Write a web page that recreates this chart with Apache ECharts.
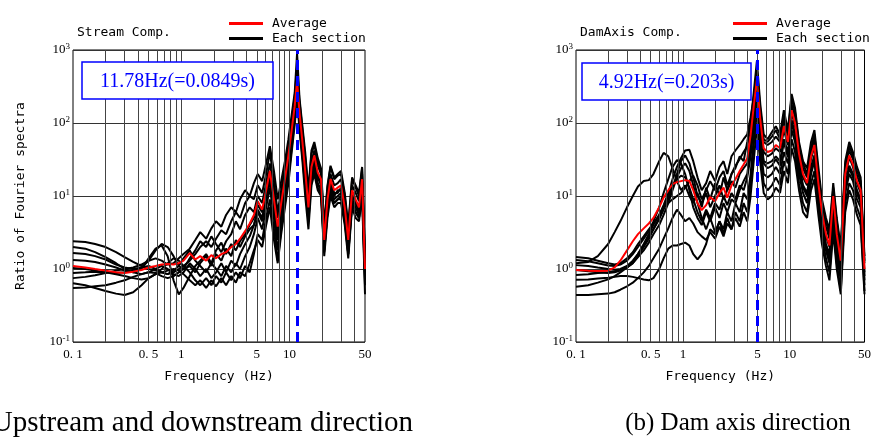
<!DOCTYPE html>
<html>
<head>
<meta charset="utf-8">
<script src="https://cdn.jsdelivr.net/npm/echarts@6/dist/echarts.min.js"></script>
<style>
html, body { margin: 0; padding: 0; background: #fff; }
#chart { width: 874px; height: 437px; }
</style>
</head>
<body>
<div id="chart"></div>
<script>
// frequency grid (Hz) for the stream-direction panel
const FREQ_A = [0.1, 0.13, 0.16, 0.2, 0.25, 0.3, 0.36, 0.43, 0.5, 0.58, 0.66, 0.75, 0.85, 0.95, 1.05, 1.2, 1.35, 1.5, 1.7, 1.9,
	2.1, 2.35, 2.6, 2.9, 3.2, 3.5, 3.9, 4.3, 4.7, 5.1, 5.6, 6.1, 6.6, 7.2, 7.8, 8.4, 9.1, 9.8, 10.5, 11.2,
	11.78, 12.4, 13.2, 14, 15, 16, 17, 18.3, 19.6, 21, 22.5, 24, 26, 28, 30, 32.5, 35, 38, 41, 44, 47, 50];

const AVG_A = [1.1, 1.05, 1.0, 0.95, 0.9, 0.88, 0.92, 0.97, 1.05, 1.1, 1.15, 1.17, 1.15, 1.2, 1.3, 1.65, 1.35, 1.5, 1.3, 1.55,
	1.4, 1.6, 1.7, 2.0, 2.2, 2.6, 3.3, 4.2, 5.5, 8.5, 6.5, 12, 22, 9, 3.8, 8, 17, 36, 80, 170,
	380, 140, 55, 22, 7, 25, 36, 21, 17, 2.5, 9, 17, 12, 13, 14, 7, 2.5, 12, 9, 7, 17, 1.0];

const SECTIONS_A = [
	[2.4, 2.35, 2.2, 2.0, 1.7, 1.45, 1.25, 1.1, 1.0, 0.95, 0.9, 0.85, 0.9, 1.0, 1.1, 1.3, 1.6, 2.0, 2.4, 2.0,
		2.6, 3.4, 3.0, 4.5, 6, 5, 8, 10, 9, 14, 11, 20, 40, 16, 6, 12, 26, 50, 110, 230,
		600, 200, 80, 34, 11, 38, 50, 30, 22, 3.5, 13, 25, 17, 19, 20, 10, 3.5, 17, 13, 10, 24, 1.4],
	[2.0, 1.9, 1.7, 1.45, 1.2, 1.0, 0.9, 0.85, 0.9, 1.0, 1.1, 1.0, 0.85, 0.8, 0.9, 1.2, 1.0, 0.8, 1.0, 0.75,
		0.9, 1.2, 0.9, 1.3, 1.1, 1.6, 2.2, 2.8, 4, 6, 4.5, 9, 16, 6, 2.5, 6, 12, 28, 60, 130,
		260, 110, 40, 16, 5, 20, 28, 15, 12, 1.8, 6, 12, 8, 9, 10, 5, 1.6, 8, 6, 5, 12, 0.7],
	[1.66, 1.6, 1.5, 1.35, 1.15, 1.05, 1.0, 1.05, 1.3, 1.8, 2.2, 2.0, 1.5, 1.1, 1.0, 1.4, 1.8, 2.4, 2.0, 2.8,
		2.2, 1.7, 2.4, 3.0, 4.5, 3.5, 5.5, 7, 6, 10, 8, 15, 28, 12, 5, 10, 20, 45, 95, 200,
		450, 170, 65, 26, 8, 30, 42, 26, 20, 3, 11, 20, 14, 15, 17, 8, 3, 14, 11, 8.5, 20, 1.2],
	[1.33, 1.3, 1.25, 1.15, 1.05, 0.95, 0.9, 1.0, 1.4, 1.9, 2.1, 1.5, 0.7, 0.45, 0.55, 0.8, 1.1, 1.3, 1.6, 1.2,
		1.8, 2.3, 1.6, 2.2, 1.8, 2.4, 3.0, 4, 5, 7.5, 6, 11, 20, 8, 3.2, 7, 15, 32, 70, 150,
		330, 120, 48, 18, 6, 24, 32, 19, 15, 2.2, 8, 15, 10, 12, 12, 6, 2.2, 10, 8, 6, 15, 0.9],
	[1.03, 1.0, 0.95, 0.9, 0.88, 0.9, 0.95, 1.05, 1.1, 1.0, 0.9, 0.85, 0.95, 1.1, 1.4, 1.8, 1.3, 1.1, 0.9, 1.2,
		1.0, 0.8, 1.1, 0.9, 1.2, 1.0, 1.5, 2.0, 3.0, 5, 3.5, 7, 13, 5, 1.8, 4.5, 10, 22, 55, 120,
		280, 100, 38, 15, 5, 18, 25, 14, 13, 2.0, 7, 13, 9, 10, 11, 5.5, 1.9, 9, 7, 5.5, 13, 0.8],
	[0.88, 0.9, 0.92, 0.9, 0.85, 0.8, 0.75, 0.72, 0.75, 0.85, 1.0, 1.2, 1.4, 1.3, 1.1, 0.9, 0.7, 0.6, 0.75, 0.6,
		0.8, 0.65, 0.9, 0.7, 0.9, 0.75, 1.1, 0.9, 1.6, 3.0, 2.5, 5, 9, 3.5, 1.3, 3.5, 8, 18, 45, 110,
		250, 90, 35, 13, 4.5, 16, 22, 13, 11, 1.7, 6, 11, 8, 9, 9, 4.5, 1.6, 8, 6, 5, 11, 0.6],
	[0.75, 0.78, 0.82, 0.88, 0.95, 1.0, 1.05, 1.15, 1.3, 1.4, 1.3, 1.15, 1.2, 1.4, 1.6, 1.9, 2.5, 3.2, 2.6, 3.6,
		4.5, 3.8, 5.5, 7, 6, 9, 12, 10, 15, 20, 16, 28, 48, 22, 9, 16, 30, 60, 130, 260,
		900, 220, 90, 40, 12, 42, 55, 33, 24, 4, 14, 26, 18, 20, 22, 11, 4, 18, 14, 11, 25, 1.5],
	[0.64, 0.6, 0.55, 0.5, 0.46, 0.44, 0.48, 0.6, 0.75, 0.85, 0.9, 0.95, 1.0, 0.95, 0.85, 0.7, 0.6, 0.7, 0.55, 0.7,
		0.58, 0.75, 0.6, 0.8, 0.65, 0.9, 0.8, 1.2, 1.8, 2.5, 2.0, 4, 7, 2.5, 1.2, 3, 7, 15, 40, 95,
		220, 80, 30, 10, 3.5, 14, 20, 12, 10, 1.5, 5, 10, 7, 8, 8, 4, 1.4, 7, 5, 4.5, 10, 0.45],
	[0.55, 0.56, 0.58, 0.6, 0.65, 0.7, 0.78, 0.85, 0.9, 0.88, 0.8, 0.75, 0.8, 0.9, 1.0, 1.1, 0.9, 1.2, 1.5, 1.1,
		1.6, 1.3, 1.9, 1.5, 2.5, 2.0, 2.8, 3.5, 4, 6.5, 5, 10, 18, 7, 2.8, 6.5, 14, 30, 65, 150,
		320, 130, 50, 20, 6, 22, 30, 18, 14, 2.2, 8, 15, 11, 11, 13, 6, 2.2, 11, 8, 6.5, 16, 0.9]
];

// frequency grid (Hz) for the dam-axis panel
const FREQ_B = [0.1, 0.13, 0.16, 0.2, 0.23, 0.26, 0.3, 0.34, 0.38, 0.43, 0.48, 0.53, 0.6, 0.66, 0.73, 0.8, 0.88, 0.96, 1.05, 1.15,
	1.25, 1.37, 1.5, 1.65, 1.8, 2.0, 2.2, 2.4, 2.6, 2.85, 3.1, 3.4, 3.7, 4.0, 4.3, 4.6, 4.92, 5.3, 5.7, 6.2,
	6.8, 7.4, 8.1, 8.8, 9.6, 10.4, 11.2, 12.2, 13.3, 14.5, 15.8, 17, 18.5, 20, 21.8, 23.5, 25.5, 27.5, 30, 33,
	36, 39, 42.5, 46, 50];

const AVG_B = [0.97, 0.95, 0.94, 0.95, 1.05, 1.3, 1.8, 2.4, 3.0, 3.6, 4.2, 5.0, 7, 9.5, 12, 14.5, 15.5, 16, 16.5, 16,
	12, 8, 6.4, 7.5, 9.7, 8.5, 11, 13, 9.5, 14, 17, 22, 27, 33, 68, 170, 390, 110, 45, 40,
	42, 50, 45, 90, 55, 150, 100, 38, 20, 15, 35, 50, 15, 6, 3, 2.1, 10, 3, 1.3, 20,
	36, 27, 16, 12, 1.0];

const SECTIONS_B = [
	[1.2, 1.25, 1.5, 2.2, 3.2, 4.5, 7, 10, 13.5, 16, 16.5, 20, 30, 39, 35, 24, 16, 12, 14, 10,
		8, 11, 7, 13, 9, 15, 10, 18, 12, 20, 24, 35, 30, 55, 100, 260, 700, 180, 70, 60,
		75, 90, 70, 150, 80, 250, 160, 55, 30, 24, 55, 80, 25, 9, 5, 3.5, 15, 5, 2, 30,
		55, 40, 25, 18, 1.5],
	[1.46, 1.4, 1.3, 1.2, 1.15, 1.2, 1.4, 1.7, 2.2, 2.8, 3.5, 4.2, 5.5, 7.5, 11, 17, 25, 33, 42, 43,
		30, 18, 12, 15, 22, 16, 25, 30, 20, 35, 42, 50, 60, 70, 120, 220, 550, 150, 60, 55,
		65, 80, 60, 130, 75, 220, 140, 50, 28, 20, 45, 70, 20, 8, 4.5, 3, 13, 4.5, 1.8, 26,
		48, 36, 22, 16, 1.3],
	[1.33, 1.28, 1.2, 1.12, 1.1, 1.15, 1.3, 1.6, 2.0, 2.6, 3.3, 4.5, 7, 11, 17, 25, 31, 28, 20, 12,
		7, 5, 4, 6, 4.5, 7, 5, 8, 6, 9, 8, 12, 16, 20, 45, 130, 300, 80, 30, 28,
		30, 35, 30, 60, 40, 110, 70, 28, 14, 11, 25, 36, 11, 4.5, 2.2, 1.6, 7, 2.2, 1.0, 14,
		26, 20, 12, 9, 0.8],
	[1.13, 1.1, 1.05, 1.0, 0.98, 1.0, 1.1, 1.3, 1.6, 2.1, 2.8, 3.5, 4.8, 6.5, 9, 13, 20, 30, 36, 28,
		18, 10, 8, 11, 7, 10, 14, 9, 12, 16, 13, 20, 24, 28, 60, 160, 380, 100, 40, 35,
		38, 45, 40, 80, 50, 140, 90, 35, 18, 14, 32, 48, 14, 5.5, 2.8, 2, 9, 2.8, 1.2, 18,
		34, 25, 15, 11, 0.9],
	[0.83, 0.85, 0.88, 0.9, 0.93, 0.98, 1.05, 1.2, 1.45, 1.8, 2.3, 3.0, 4.0, 5.5, 8, 12, 18, 24, 28, 22,
		14, 8, 5, 3.5, 5, 3.2, 4.5, 3, 5, 3.5, 6, 4.5, 8, 6, 15, 50, 150, 40, 15, 12,
		14, 18, 14, 30, 20, 60, 40, 15, 8, 6, 15, 22, 7, 2.8, 1.4, 0.9, 4, 1.2, 0.5, 8,
		15, 12, 7, 5, 0.5],
	[0.71, 0.72, 0.74, 0.76, 0.78, 0.8, 0.8, 0.78, 0.75, 0.72, 0.7, 0.75, 1.0, 1.4, 1.9, 2.1, 2.1, 2.2, 2.3, 2.1,
		1.6, 1.35, 1.6, 2.2, 3.5, 3.0, 4.5, 3.5, 6, 4.5, 8, 6, 11, 9, 20, 60, 180, 50, 20, 18,
		20, 25, 20, 40, 28, 80, 55, 20, 11, 8, 20, 30, 9, 3.5, 1.8, 1.2, 5.5, 1.6, 0.7, 11,
		20, 16, 9, 7, 0.6],
	[0.57, 0.6, 0.65, 0.72, 0.8, 0.9, 1.05, 1.2, 1.5, 2.0, 2.6, 3.5, 5, 7, 10, 14, 17, 19, 18, 13,
		9, 6, 4.5, 6.5, 5, 8, 6.5, 10, 7.5, 11, 9, 14, 12, 18, 35, 90, 250, 70, 28, 24,
		26, 32, 26, 55, 34, 100, 65, 25, 13, 10, 22, 33, 10, 4, 2, 1.4, 6.5, 2, 0.85, 12,
		24, 18, 11, 8, 0.7],
	[0.97, 0.93, 0.9, 0.88, 0.9, 0.95, 1.05, 1.25, 1.6, 2.2, 3.0, 4.0, 5.5, 7, 8, 9, 10, 11, 13, 16,
		19, 14, 9, 12, 16, 12, 18, 22, 14, 20, 26, 32, 40, 48, 90, 200, 450, 130, 55, 50,
		55, 65, 55, 110, 65, 180, 120, 45, 24, 18, 40, 60, 18, 7, 3.8, 2.6, 12, 3.8, 1.6, 24,
		42, 32, 19, 14, 1.2],
	[0.44, 0.44, 0.45, 0.46, 0.48, 0.52, 0.58, 0.65, 0.75, 0.9, 1.1, 1.4, 1.9, 2.6, 3.6, 5, 6.5, 5.5, 4.5, 5,
		4.2, 3.2, 2.8, 2.5, 3.2, 2.6, 3.8, 2.8, 4.2, 3.5, 5, 3.8, 6, 4.5, 10, 30, 90, 28, 11, 9,
		10, 13, 11, 22, 15, 45, 30, 12, 6, 5, 12, 17, 5.5, 2.2, 1.1, 0.7, 3.2, 1.0, 0.45, 6,
		12, 9, 5.5, 4, 0.45]
];

const PEAK_A = 11.78;
const PEAK_B = 4.92;
const PEAK_LABEL_A = '11.78Hz(=0.0849s)';
const PEAK_LABEL_B = '4.92Hz(=0.203s)';
const PANEL_TITLES = ['Stream Comp.', 'DamAxis Comp.'];
const CAPTIONS = ['(a) Upstream and downstream direction', '(b) Dam axis direction'];
const LEGEND_NAMES = ['Average', 'Each section'];
const X_NAME = 'Frequency (Hz)';
const Y_NAME = 'Ratio of Fourier spectra';

const X_TICKS = [0.1, 0.5, 1, 5, 10, 50];
const X_TICK_LABELS = ['0. 1', '0. 5', '1', '5', '10', '50'];
const GRID_FREQS = [0.2, 0.3, 0.4, 0.5, 0.6, 0.7, 0.8, 0.9, 1, 2, 3, 4, 5, 6, 7, 8, 9, 10, 20, 30, 40];

const MONO = 'DejaVu Sans Mono';
const SERIF = 'Liberation Serif';

const chart = echarts.init( document.getElementById( 'chart' ) );

function pairs( freqs, values ) {
	return freqs.map( ( f, i ) => [ f, values[ i ] ] );
}

function xAxisFor( gridIndex ) {
	return {
		type: 'log',
		logBase: 10,
		gridIndex: gridIndex,
		min: 0.1,
		max: 50,
		name: X_NAME,
		nameLocation: 'middle',
		nameGap: 28,
		nameTextStyle: { fontFamily: MONO, fontSize: 13, color: '#000' },
		axisLine: { show: false },
		axisTick: { show: false },
		splitLine: { show: false },
		axisLabel: {
			customValues: X_TICKS,
			showMinLabel: true,
			showMaxLabel: true,
			margin: 6,
			fontFamily: SERIF,
			fontSize: 13,
			color: '#000',
			formatter: ( v ) => {
				const i = X_TICKS.findIndex( ( t ) => Math.abs( Math.log10( t ) - Math.log10( v ) ) < 1e-6 );
				return i >= 0 ? X_TICK_LABELS[ i ] : '';
			}
		}
	};
}

function yAxisFor( gridIndex ) {
	return {
		type: 'log',
		logBase: 10,
		gridIndex: gridIndex,
		min: 0.1,
		max: 1000,
		name: gridIndex === 0 ? Y_NAME : '',
		nameLocation: 'middle',
		nameGap: 46,
		nameTextStyle: { fontFamily: MONO, fontSize: 13, color: '#000' },
		axisLine: { show: false },
		axisTick: { show: false },
		splitLine: { show: true, lineStyle: { color: '#333', width: 1 } },
		axisLabel: {
			margin: 3,
			formatter: ( v ) => '{b|10}{s|' + Math.round( Math.log10( v ) ) + '}',
			rich: {
				b: { fontFamily: SERIF, fontSize: 13, color: '#000', lineHeight: 16 },
				s: { fontFamily: SERIF, fontSize: 9, color: '#000', lineHeight: 9, verticalAlign: 'top' }
			}
		}
	};
}

function panelSeries( idx, freqs, sections, avg, peak ) {
	const list = [];
	// vertical log grid lines
	list.push( {
		type: 'line',
		name: 'grid',
		xAxisIndex: idx,
		yAxisIndex: idx,
		data: [ [ 0.1, 1 ] ],
		showSymbol: false,
		lineStyle: { opacity: 0 },
		silent: true,
		z: 1,
		markLine: {
			silent: true,
			symbol: [ 'none', 'none' ],
			label: { show: false },
			lineStyle: { color: '#444', width: 1, type: 'solid' },
			data: GRID_FREQS.map( ( f ) => ( { xAxis: f } ) )
		}
	} );
	sections.forEach( ( vals ) => {
		list.push( {
			type: 'line',
			name: LEGEND_NAMES[ 1 ],
			xAxisIndex: idx,
			yAxisIndex: idx,
			data: pairs( freqs, vals ),
			showSymbol: false,
			color: '#000',
			lineStyle: { color: '#000', width: 2 },
			z: 2
		} );
	} );
	list.push( {
		type: 'line',
		name: LEGEND_NAMES[ 0 ],
		xAxisIndex: idx,
		yAxisIndex: idx,
		data: pairs( freqs, avg ),
		showSymbol: false,
		color: '#ff0000',
		lineStyle: { color: '#ff0000', width: 2 },
		z: 3
	} );
	list.push( {
		type: 'line',
		name: 'peak',
		xAxisIndex: idx,
		yAxisIndex: idx,
		data: [ [ peak, 1 ] ],
		showSymbol: false,
		lineStyle: { opacity: 0 },
		silent: true,
		z: 5,
		markLine: {
			silent: true,
			symbol: [ 'none', 'none' ],
			label: { show: false },
			lineStyle: { color: '#0000ff', width: 3, type: [ 10, 6 ] },
			data: [ { xAxis: peak } ]
		}
	} );
	return list;
}

function legendAt( left ) {
	return {
		left: left,
		top: 12,
		orient: 'vertical',
		icon: 'rect',
		itemWidth: 34,
		itemHeight: 3,
		itemGap: 2,
		selectedMode: false,
		data: LEGEND_NAMES,
		textStyle: { fontFamily: MONO, fontSize: 13, color: '#000', padding: [ 0, 0, 0, 4 ] }
	};
}

function peakBox( x, y, w, h, text ) {
	return [
		{ type: 'rect', shape: { x: x, y: y, width: w, height: h }, style: { fill: '#fff', stroke: '#0000ff', lineWidth: 1.5 }, z: 100 },
		{ type: 'text', x: x + w / 2, y: y + h / 2 + 1, style: { text: text, font: '20px "' + SERIF + '"', fill: '#0000ff', align: 'center', verticalAlign: 'middle' }, z: 101 }
	];
}

const option = {
	animation: false,
	backgroundColor: '#fff',
	grid: [
		{ left: 73, top: 50, width: 292, height: 292, show: true, borderColor: '#000', borderWidth: 1, backgroundColor: 'transparent' },
		{ left: 576, top: 50, width: 293, height: 292, show: true, borderColor: '#000', borderWidth: 1, backgroundColor: 'transparent' }
	],
	xAxis: [ xAxisFor( 0 ), xAxisFor( 1 ) ],
	yAxis: [ yAxisFor( 0 ), yAxisFor( 1 ) ],
	legend: [ legendAt( 224 ), legendAt( 728 ) ],
	series: [
		...panelSeries( 0, FREQ_A, SECTIONS_A, AVG_A, PEAK_A ),
		...panelSeries( 1, FREQ_B, SECTIONS_B, AVG_B, PEAK_B )
	],
	graphic: [
		{ type: 'text', x: 77, y: 33, style: { text: PANEL_TITLES[ 0 ], font: '13px "' + MONO + '"', fill: '#000', verticalAlign: 'middle' } },
		{ type: 'text', x: 580, y: 33, style: { text: PANEL_TITLES[ 1 ], font: '13px "' + MONO + '"', fill: '#000', verticalAlign: 'middle' } },
		...peakBox( 82, 62, 191, 37, PEAK_LABEL_A ),
		...peakBox( 582, 63, 169, 37, PEAK_LABEL_B ),
		{ type: 'text', x: 413, y: 423, style: { text: CAPTIONS[ 0 ], font: '29px "' + SERIF + '"', fill: '#000', align: 'right', verticalAlign: 'middle' } },
		{ type: 'text', x: 738, y: 423, style: { text: CAPTIONS[ 1 ], font: '25px "' + SERIF + '"', fill: '#000', align: 'center', verticalAlign: 'middle' } }
	]
};

chart.setOption( option );
</script>
</body>
</html>
